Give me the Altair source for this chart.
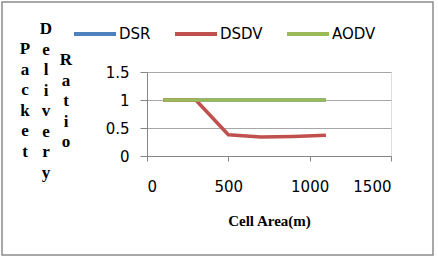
import altair as alt
import pandas as pd

# Packet delivery ratio against cell area for three routing protocols
cell_area = [100, 300, 500, 700, 900, 1100]
dsr = [1.0, 1.0, 1.0, 1.0, 1.0, 1.0]
dsdv = [1.0, 1.0, 0.38, 0.34, 0.35, 0.37]
aodv = [1.0, 1.0, 1.0, 1.0, 1.0, 1.0]

protocols = ["DSR", "DSDV", "AODV"]
colors = ["#4F81BD", "#C0504D", "#9BBB59"]
x_ticks = [0, 500, 1000, 1500]
y_ticks = [0, 0.5, 1, 1.5]
y_title_words = ["Packet", "Delivery", "Ratio"]

rows = []
for name, series in zip(protocols, [dsr, dsdv, aodv]):
    for c, v in zip(cell_area, series):
        rows.append({"area": c, "pdr": v, "protocol": name, "order": protocols.index(name)})
df = pd.DataFrame(rows)

W, H = 244, 84
LEFT, TOP = 147, 72

lines = alt.Chart(df).mark_line(strokeWidth=3.5, strokeJoin="round").encode(
    x=alt.X("area:Q",
            scale=alt.Scale(domain=[0, 1500], nice=False),
            axis=alt.Axis(values=x_ticks, format="d", grid=False, title="Cell Area(m)",
                          titleFont="Liberation Serif", titleFontSize=15,
                          titleFontWeight="bold", titleColor="#000",
                          titlePadding=19, labelFont="DejaVu Sans",
                          labelFontSize=15, labelColor="#000",
                          labelPadding=18, tickSize=5, domainColor="#868686",
                          tickColor="#868686")),
    y=alt.Y("pdr:Q",
            scale=alt.Scale(domain=[0, 1.5], nice=False),
            axis=alt.Axis(values=y_ticks, format="~g", title=None,
                          labelFont="DejaVu Sans", labelFontSize=15,
                          labelColor="#000", labelPadding=11, tickSize=7,
                          domainColor="#868686", tickColor="#868686",
                          gridColor="#a6a6a6")),
    color=alt.Color("protocol:N",
                    scale=alt.Scale(domain=protocols, range=colors),
                    legend=alt.Legend(title=None, orient="none",
                                      direction="horizontal",
                                      legendX=-75, legendY=-61,
                                      symbolType="stroke", symbolSize=1764,
                                      symbolStrokeWidth=4, labelOffset=1,
                                      columnPadding=16,
                                      labelFont="DejaVu Sans", labelFontSize=15,
                                      labelColor="#000")),
    order=alt.Order("order:Q"),
    detail="protocol:N",
)

# Stacked-letter y axis title, one column per word (first-line baselines)
title_x = [25, 46, 66]
title_y = [54, 34, 65]
word_df = pd.DataFrame({"word": y_title_words})
title_layers = []
for i, w in enumerate(y_title_words):
    t = alt.Chart(word_df).transform_filter(
        alt.datum.word == w
    ).transform_calculate(
        letters="split(datum.word, '')"
    ).mark_text(font="Liberation Serif", fontSize=17, fontWeight="bold",
                lineHeight=20.5, baseline="alphabetic", align="center",
                color="#000").encode(
        x=alt.value(title_x[i] - LEFT),
        y=alt.value(title_y[i] - TOP),
        text="letters:N",
    )
    title_layers.append(t)

# Outer frame
frame = alt.Chart(pd.DataFrame({"k": [0]})).mark_rect(
    fill=None, stroke="#8c8c8c", strokeWidth=1.5
).encode(
    x=alt.value(2 - LEFT), x2=alt.value(433 - LEFT),
    y=alt.value(2 - TOP), y2=alt.value(255 - TOP),
)

chart = alt.layer(frame, lines, *title_layers).properties(
    width=W, height=H,
    autosize=alt.AutoSizeParams(type="none"),
    padding={"left": LEFT, "top": TOP, "right": 438 - LEFT - W, "bottom": 258 - TOP - H},
).configure_view(stroke=None).configure(background="white")

chart.save("out.html", embed_options={"renderer": "svg", "actions": False})
